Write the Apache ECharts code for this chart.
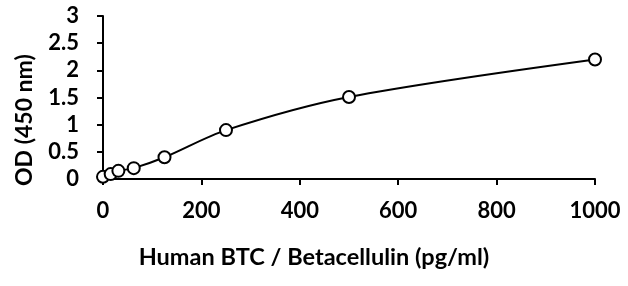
<!DOCTYPE html>
<html>
<head>
<meta charset="utf-8">
<script src="https://cdn.jsdelivr.net/npm/echarts@6/dist/echarts.min.js"></script>
<style>
  html, body { margin: 0; padding: 0; background: #fff; }
  #main { width: 628px; height: 286px; }
</style>
</head>
<body>
<div id="main"></div>
<script>
var concentration = [0, 15.6, 31.25, 62.5, 125, 250, 500, 1000];
var od = [0.04, 0.09, 0.15, 0.2, 0.4, 0.9, 1.51, 2.2];
var xTitle = 'Human BTC / Betacellulin (pg/ml)';
var yTitle = 'OD (450 nm)';

var points = concentration.map(function (c, i) { return [c, od[i]]; });
var font = 'Lato, "Open Sans", sans-serif';

var myChart = echarts.init(document.getElementById('main'));
var option = {
    animation: false,
    grid: { left: 103, right: 33, top: 16, bottom: 107 },
    // axis titles placed as text, they sit off-centre in the original
    graphic: [
        {
            type: 'text', left: 'center', top: 245,
            x: -20,
            style: { text: xTitle, fill: '#000', font: 'bold 23.5px ' + font }
        },
        {
            type: 'text', x: 13, y: 186, rotation: Math.PI / 2,
            style: { text: yTitle, fill: '#000', font: 'bold 23px ' + font }
        }
    ],
    xAxis: {
        type: 'value',
        min: 0, max: 1000, interval: 200,
        axisLine: { lineStyle: { color: '#000', width: 2 } },
        axisTick: { show: true, length: 6, lineStyle: { color: '#000', width: 2 } },
        axisLabel: {
            color: '#000', fontSize: 22, fontWeight: 'bold', fontFamily: font, margin: 21,
            formatter: function (v) { return String(v); }
        },
        splitLine: { show: false }
    },
    yAxis: {
        type: 'value',
        min: 0, max: 3, interval: 0.5,
        axisLine: { show: true, lineStyle: { color: '#000', width: 2 } },
        axisTick: { show: true, length: 6, lineStyle: { color: '#000', width: 2 } },
        axisLabel: { color: '#000', fontSize: 22, fontWeight: 'bold', fontFamily: font, margin: 24 },
        splitLine: { show: false }
    },
    series: [{
        type: 'line',
        data: points,
        smooth: 0.3,
        symbol: 'emptyCircle',
        symbolSize: 12,
        lineStyle: { color: '#000', width: 2 },
        itemStyle: { color: '#000', borderColor: '#000', borderWidth: 1.5 }
    }]
};
myChart.setOption(option);
</script>
</body>
</html>
